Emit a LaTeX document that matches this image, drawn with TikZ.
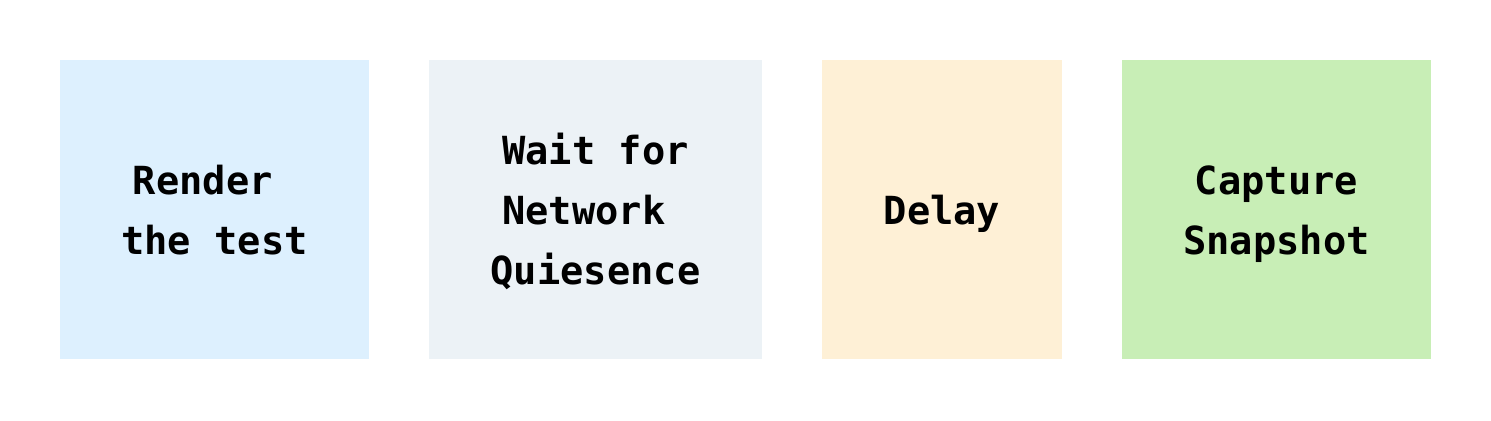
\documentclass[tikz,border=0pt]{standalone}
\usepackage{fontspec}
\setmonofont{DejaVu Sans Mono}
\usepackage{tikz}
\usepackage{xcolor}
\usetikzlibrary{positioning}
\definecolor{pastelblue}{HTML}{DDF0FE}
\definecolor{pastelgray}{HTML}{ECF2F6}
\definecolor{pastelorange}{HTML}{FEF0D6}
\definecolor{pastelgreen}{HTML}{C8EEB6}
\newcommand{\topstrut}{\rule{0pt}{22.25pt}}
\tikzstyle{stage} = [rectangle, draw=none, align=center, inner sep=0pt, outer sep=0pt, minimum height=149.5pt,
  font=\ttfamily\bfseries\fontsize{19.35}{30}\selectfont,
  execute at end node={\rule[-7.75pt]{0pt}{7.75pt}}]

\begin{document}
\begin{tikzpicture}
        \useasboundingbox (0,0) rectangle (745.5pt,210pt);
        % Stages ------------------------------------------------------------------------------------
        \node[stage, minimum width=154.5pt, fill=pastelblue, anchor=west](render_test) at (30pt,105.25pt){\topstrut Render\hphantom{x}\\the test};
        \node[stage, minimum width=166.5pt, right=30pt of render_test, fill=pastelgray](wait_network){\topstrut Wait for\\Network\hphantom{x}\\Quiesence};
        \node[stage, minimum width=120pt, right=30pt of wait_network, fill=pastelorange](delay){\topstrut Delay};
        \node[stage, minimum width=154.5pt, right=30pt of delay, fill=pastelgreen](capture_snapshot){\topstrut Capture\\Snapshot};
    \end{tikzpicture}
\end{document}
